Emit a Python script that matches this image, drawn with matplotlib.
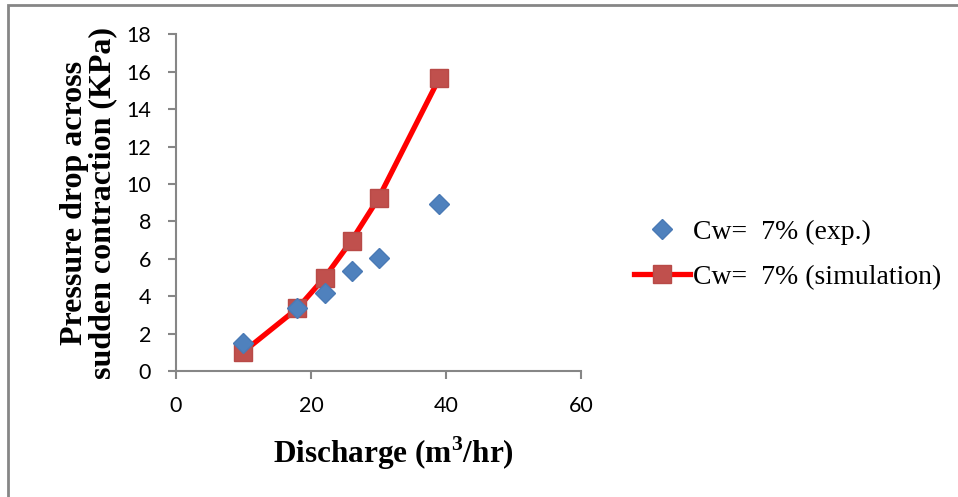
import matplotlib.pyplot as plt
from matplotlib.patches import Rectangle

plt.rcParams['mathtext.fontset'] = 'custom'
plt.rcParams['mathtext.rm'] = 'Liberation Serif'
plt.rcParams['mathtext.bf'] = 'Liberation Serif:bold'

# discharge (m3/hr) and pressure drop (KPa)
q_exp = [10, 18, 22, 26, 30, 39]
dp_exp = [1.51, 3.38, 4.19, 5.36, 6.02, 8.93]

q_sim = [10, 18, 22, 26, 30, 39]
dp_sim = [1.03, 3.35, 4.99, 6.97, 9.24, 15.65]

fig = plt.figure(figsize=(9.58, 4.97), dpi=100)
ax = fig.add_axes([0.1837, 0.2535, 0.4228, 0.6775])

ax.plot(q_exp, dp_exp, linestyle='none', marker='D', markersize=10,
        color='#4F81BD', markeredgecolor='#4A7AB5', label='Cw=  7% (exp.)', zorder=4)
ax.plot(q_sim, dp_sim, color='#FF0000', linewidth=3.8, marker='s', markersize=13.5,
        markerfacecolor='#C0504D', markeredgecolor='#B84A47', label='Cw=  7% (simulation)',
        zorder=3)

ax.set_xlim(0, 60)
ax.set_ylim(0, 18)
ax.set_xticks([0, 20, 40, 60])
ax.set_yticks(range(0, 19, 2))

for s in ['top', 'right']:
    ax.spines[s].set_visible(False)
for s in ['left', 'bottom']:
    ax.spines[s].set_color('#868686')
    ax.spines[s].set_linewidth(1.5)
ax.tick_params(colors='#868686', length=6, width=1.5, labelcolor='black',
               labelsize=15.5)
for lab in ax.get_xticklabels() + ax.get_yticklabels():
    lab.set_fontfamily('Lato')
ax.tick_params(axis='x', pad=12)
ax.tick_params(axis='y', pad=12)

ax.set_xlabel(r'Discharge (m$^\mathbf{3}$/hr)', fontfamily='Liberation Serif',
              fontweight='bold', fontsize=22.5)
ax.xaxis.set_label_coords(0.536, -0.188)
ax.set_ylabel('Pressure drop across\nsudden contraction (KPa)', fontfamily='Liberation Serif',
              fontweight='bold', fontsize=23, linespacing=0.95)
ax.yaxis.set_label_coords(-0.146, 0.5)

leg = fig.legend(loc='center left', bbox_to_anchor=(0.636, 0.488),
                 prop={'family': 'Liberation Serif', 'size': 20},
                 frameon=False, handlelength=2.0, handletextpad=0.1,
                 labelspacing=0.7)

# grey frame around the chart
fig.patches.append(Rectangle((8 / 958, -0.05), 1.2, 1 - 5 / 497 + 0.05,
                             transform=fig.transFigure, fill=False,
                             edgecolor='#868686', linewidth=2))

fig.savefig('out.png', dpi=100)
